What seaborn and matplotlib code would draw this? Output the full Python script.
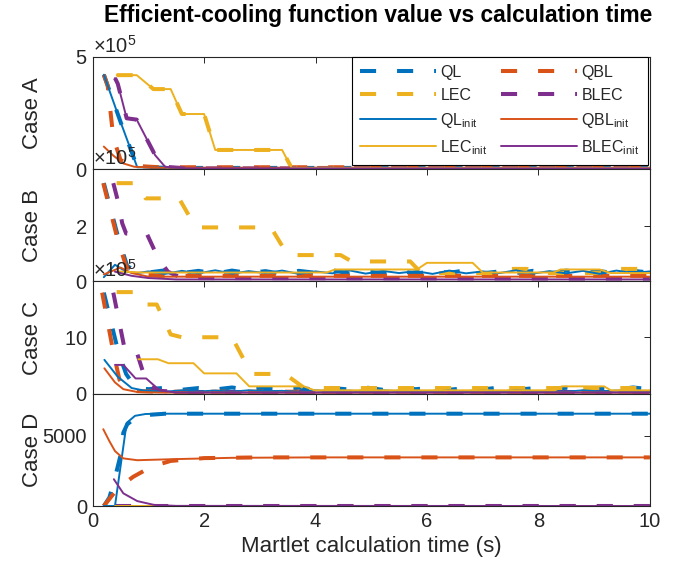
import matplotlib
matplotlib.use("Agg")
import matplotlib.pyplot as plt
from matplotlib.ticker import ScalarFormatter
import seaborn as sns

# ---- data (Case A-C in units of 1e5, Case D raw) ----
T_WIG = [1.0, 1.3, 1.6, 1.9, 2.2, 2.5, 2.8, 3.1, 3.4, 3.7, 4.0, 4.3, 4.6, 4.9, 5.2, 5.5,
         5.8, 6.1, 6.4, 6.7, 7.0, 7.3, 7.6, 7.9, 8.2, 8.5, 8.8, 9.1, 9.4, 9.7, 10.0]

# Case A
A_QL_T = [0.2, 0.5, 0.8, 1.5, 10]
A_QL = [4.2, 2.1, 0.08, 0.05, 0.05]
A_QBL_T = [0.2, 0.27, 0.37, 0.5, 0.7, 1.2, 10]
A_QBL = [4.2, 3.7, 1.4, 0.4, 0.15, 0.08, 0.08]
A_LEC_T = [0.43, 0.79, 1.09, 1.4, 1.6, 2.0, 2.2, 3.4, 3.57, 10]
A_LEC = [4.18, 4.18, 3.56, 3.56, 2.45, 2.45, 0.85, 0.85, 0.05, 0.05]
A_BLEC_T = [0.4, 0.45, 0.61, 0.79, 1.12, 1.3, 1.7, 10]
A_BLEC = [4.05, 3.8, 2.26, 2.2, 0.62, 0.1, 0.03, 0.03]
A_QL_INIT_T = A_QL_T
A_QL_INIT = A_QL
A_QBL_INIT_T = [0.2, 0.37, 0.55, 0.75, 1.2, 10]
A_QBL_INIT = [1.0, 0.6, 0.25, 0.1, 0.06, 0.06]
A_LEC_INIT_T = A_LEC_T
A_LEC_INIT = A_LEC
A_BLEC_INIT_T = A_BLEC_T
A_BLEC_INIT = A_BLEC

# Case B
B_QL_T = [0.2, 0.47, 0.62, 0.8] + T_WIG
B_QL = [3.55, 1.5, 0.55, 0.35,
        0.32, 0.40, 0.30, 0.38, 0.28, 0.39, 0.30, 0.37, 0.27, 0.38, 0.31, 0.40, 0.29, 0.36,
        0.30, 0.39, 0.28, 0.37, 0.31, 0.40, 0.29, 0.36, 0.30, 0.38, 0.28, 0.39, 0.31, 0.37,
        0.29, 0.38, 0.32]
B_QBL_T = [0.19, 0.45, 0.6, 0.75, 1.2, 10]
B_QBL = [3.55, 1.5, 0.55, 0.3, 0.2, 0.2]
B_LEC_T = [0.43, 0.8, 0.95, 1.55, 1.85, 3.2, 3.5, 4.45, 4.65, 5.7, 5.9, 7.25, 7.35, 7.8,
           7.95, 9.3, 9.45, 10]
B_LEC = [3.55, 3.55, 3.0, 3.0, 1.95, 1.95, 0.95, 0.95, 0.72, 0.72, 0.3, 0.3, 0.45, 0.45,
         0.3, 0.3, 0.45, 0.45]
B_BLEC_T = [0.37, 0.46, 0.53, 0.6, 0.97, 1.17, 1.35, 1.6, 10]
B_BLEC = [3.55, 2.85, 2.1, 1.73, 1.73, 0.86, 0.35, 0.12, 0.1]
B_QL_INIT_T = [0.2, 0.4, 0.6, 0.8] + T_WIG
B_QL_INIT = [0.15, 0.6, 0.35, 0.3,
             0.36, 0.27, 0.38, 0.29, 0.40, 0.28, 0.37, 0.30, 0.39, 0.27, 0.36, 0.29, 0.40,
             0.28, 0.38, 0.30, 0.37, 0.27, 0.39, 0.29, 0.36, 0.30, 0.40, 0.28, 0.37, 0.29,
             0.38, 0.27, 0.39, 0.30, 0.36]
B_QBL_INIT_T = [0.2, 0.5, 0.7, 1.0, 10]
B_QBL_INIT = [0.25, 0.5, 0.3, 0.17, 0.17]
B_LEC_INIT_T = [0.45, 0.9, 4.2, 4.35, 5.82, 6.0, 6.82, 7.0, 8.27, 8.4, 9.1, 9.3, 10]
B_LEC_INIT = [0.36, 0.32, 0.32, 0.43, 0.43, 0.67, 0.67, 0.32, 0.32, 0.43, 0.43, 0.3, 0.3]
B_BLEC_INIT_T = [0.4, 0.7, 1.0, 1.5, 10]
B_BLEC_INIT = [0.35, 0.2, 0.12, 0.07, 0.07]

# Case C
C_QL_T = [0.2, 0.46, 0.6, 0.76, 0.9] + T_WIG
C_QL = [17.9, 7.4, 3.5, 1.2, 0.9,
        0.8, 1.05, 0.7, 1.0, 0.75, 1.1, 0.7, 0.95, 0.8, 1.05, 0.7, 1.0, 0.75, 1.1, 0.7, 0.95,
        0.8, 1.05, 0.7, 1.0, 0.75, 1.1, 0.7, 0.95, 0.8, 1.05, 0.7, 1.0, 0.75, 1.1, 0.8]
C_QBL_T = [0.17, 0.37, 0.48, 0.6, 0.8, 1.2, 10]
C_QBL = [17.9, 7.4, 2.5, 0.8, 0.45, 0.35, 0.35]
C_LEC_T = [0.43, 0.78, 0.95, 1.15, 1.4, 1.6, 2.5, 2.85, 3.45, 3.8, 10]
C_LEC = [18.0, 18.0, 15.8, 15.8, 10.5, 10.0, 10.0, 3.5, 3.5, 1.0, 1.0]
C_BLEC_T = [0.37, 0.56, 0.75, 0.98, 1.2, 1.6, 10]
C_BLEC = [17.9, 8.6, 8.6, 1.5, 0.5, 0.3, 0.3]
C_QL_INIT_T = [0.21, 0.45, 0.7, 0.9] + T_WIG
C_QL_INIT = [6.0, 3.0, 1.0, 0.6,
             0.5, 0.35, 0.6, 0.4, 0.55, 0.35, 0.6, 0.45, 0.5, 0.35, 0.6, 0.4, 0.55, 0.35,
             0.6, 0.45, 0.5, 0.35, 0.6, 0.4, 0.55, 0.35, 0.6, 0.45, 0.5, 0.35, 0.6, 0.4,
             0.55, 0.35, 0.5]
C_QBL_INIT_T = [0.21, 0.4, 0.55, 0.8, 1.2, 10]
C_QBL_INIT = [4.5, 2.0, 0.8, 0.3, 0.2, 0.2]
C_LEC_INIT_T = [0.82, 1.17, 1.36, 1.81, 2.0, 2.58, 2.81, 3.79, 3.98, 8.3, 8.42, 9.18,
                9.3, 10]
C_LEC_INIT = [6.1, 6.1, 5.4, 5.4, 3.6, 3.6, 1.3, 1.3, 0.6, 0.6, 1.3, 1.3, 0.6, 0.6]
C_BLEC_INIT_T = [0.4, 0.55, 0.77, 0.96, 1.2, 1.5, 10]
C_BLEC_INIT = [5.1, 5.1, 2.7, 2.7, 0.6, 0.2, 0.2]

# Case D
D_QL_T = [0.2, 0.3, 0.4, 0.5, 0.55, 0.62, 0.75, 0.95, 1.3, 10]
D_QL = [0, 600, 2000, 3600, 5200, 5800, 6200, 6450, 6550, 6550]
D_QBL_T = [0.2, 0.43, 0.6, 0.73, 1.06, 1.4, 2.0, 3.0, 10]
D_QBL = [0, 1150, 1700, 2080, 2800, 3200, 3400, 3450, 3450]
D_LEC_T = [0.4, 10]
D_LEC = [0, 0]
D_BLEC_T = [0.4, 10]
D_BLEC = [0, 0]
D_QL_INIT_T = [0.2, 0.4, 0.61, 0.76, 0.95, 1.3, 10]
D_QL_INIT = [0, 0, 5900, 6400, 6530, 6550, 6550]
D_QBL_INIT_T = [0.19, 0.3, 0.4, 0.55, 0.8, 1.5, 2.5, 4.0, 10]
D_QBL_INIT = [5450, 4600, 3900, 3380, 3250, 3330, 3420, 3450, 3450]
D_LEC_INIT_T = [0.4, 10]
D_LEC_INIT = [0, 0]
D_BLEC_INIT_T = [0.38, 0.55, 0.8, 1.1, 1.5, 10]
D_BLEC_INIT = [1900, 900, 350, 80, 10, 0]

CASES = ["Case A", "Case B", "Case C", "Case D"]
YLIMS = [5e5, 4.06e5, 19.9e5, 7970]
YTICKS = [[0, 5e5], [0, 2e5], [0, 10e5], [0, 5000]]
SCALES = [1e5, 1e5, 1e5, 1]

COLORS = {"QL": "#0072BD", "QBL": "#D95319", "LEC": "#EDB120", "BLEC": "#7E2F8E"}
LABELS = ["QL", "QBL", "LEC", "BLEC",
          r"QL$_{\mathrm{init}}$", r"QBL$_{\mathrm{init}}$",
          r"LEC$_{\mathrm{init}}$", r"BLEC$_{\mathrm{init}}$"]

g = globals()


def case_series(prefix):
    out = []
    for name in ["QL", "QBL", "LEC", "BLEC"]:
        out.append((name, False, g[f"{prefix}_{name}_T"], g[f"{prefix}_{name}"]))
    for name in ["QL", "QBL", "LEC", "BLEC"]:
        out.append((name, True, g[f"{prefix}_{name}_INIT_T"], g[f"{prefix}_{name}_INIT"]))
    return out


sns.set_theme(style="white")
plt.rcParams["font.family"] = ["Liberation Sans", "DejaVu Sans"]
plt.rcParams["mathtext.fontset"] = "custom"
plt.rcParams["mathtext.rm"] = "Liberation Sans"
plt.rcParams["mathtext.it"] = "Liberation Sans:italic"
plt.rcParams["mathtext.bf"] = "Liberation Sans:bold"

INK = "#262626"
fig, axes = plt.subplots(4, 1, sharex=True, figsize=(6.79, 5.65), dpi=100)
fig.subplots_adjust(left=0.1365, right=0.957, top=0.8996, bottom=0.1044, hspace=0)

for i, (ax, prefix) in enumerate(zip(axes, "ABCD")):
    for name, init, t, v in case_series(prefix):
        y = [val * SCALES[i] for val in v]
        if init:
            sns.lineplot(x=t, y=y, ax=ax, color=COLORS[name], linewidth=1.4,
                         estimator=None, sort=False)
        else:
            sns.lineplot(x=t, y=y, ax=ax, color=COLORS[name], linewidth=2.9,
                         linestyle=(0, (4.0, 5.2)), estimator=None, sort=False)
    ax.set_xlim(0, 10)
    ax.set_ylim(0, YLIMS[i])
    ax.set_yticks(YTICKS[i])
    if SCALES[i] != 1:
        fmt = ScalarFormatter(useMathText=True)
        fmt.set_powerlimits((5, 5))
        ax.yaxis.set_major_formatter(fmt)
        ax.yaxis.get_offset_text().set_fontsize(14.5)
        ax.yaxis.get_offset_text().set_color(INK)
    ax.set_ylabel(CASES[i], fontsize=16, color=INK)
    ax.yaxis.set_label_coords(-0.09, 0.5)
    ax.tick_params(direction="in", length=4, width=0.7, colors=INK, labelsize=14.5,
                   top=True, right=True, pad=4)
    for sp in ax.spines.values():
        sp.set_color(INK)
        sp.set_linewidth(0.8)

axes[-1].set_xticks([0, 2, 4, 6, 8, 10])
axes[-1].set_xlabel("Martlet calculation time (s)", fontsize=16, color=INK)
axes[0].set_title("Efficient-cooling function value vs calculation time",
                  fontsize=16.4, fontweight="bold", color="black", pad=25, x=0.513)

lines = axes[0].get_lines()
order = [0, 2, 4, 6, 1, 3, 5, 7]
leg = axes[0].legend([lines[k] for k in order], [LABELS[k] for k in order],
                     ncol=2, loc="upper right", bbox_to_anchor=(0.996, 0.998),
                     borderaxespad=0, fontsize=11.5, handlelength=4.75,
                     handletextpad=0.3, columnspacing=0.8, labelspacing=0.5,
                     borderpad=0.5, frameon=True, fancybox=False, framealpha=1)
leg.get_frame().set_edgecolor("black")
leg.get_frame().set_linewidth(0.8)

fig.savefig("out.png", dpi=100)
